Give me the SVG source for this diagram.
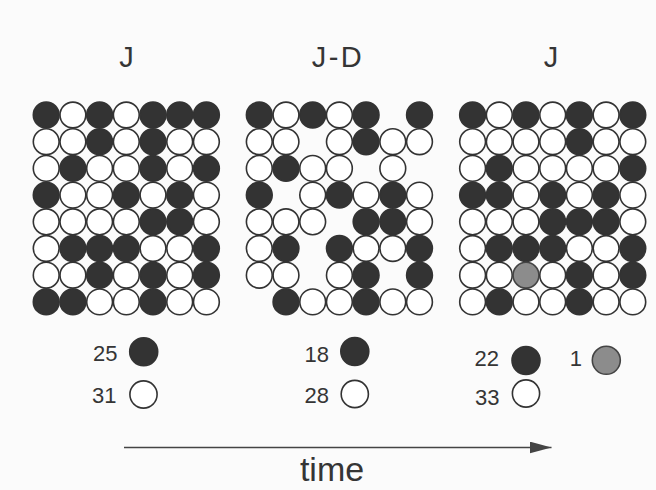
<svg xmlns="http://www.w3.org/2000/svg" width="656" height="490" viewBox="0 0 656 490">
<style>
.b{fill:#333333;stroke:#333333;stroke-width:1.6}
.w{fill:#ffffff;stroke:#333333;stroke-width:1.6}
.g{fill:#8c8c8c;stroke:#444444;stroke-width:1.6}
.t{font-family:"Liberation Sans",Arial,Helvetica,sans-serif;fill:#353535}
.title{font-size:29px;text-anchor:middle}
.num{font-size:22px;text-anchor:end}
.lab{font-size:34px;text-anchor:middle}
.arr{stroke:#444;stroke-width:1.6;fill:none}
</style>
<defs>
<marker id="ah" markerUnits="userSpaceOnUse" markerWidth="24" markerHeight="14" refX="22" refY="6" orient="auto">
<path d="M0,0 L22,6 L0,12 Z" fill="#444"/>
</marker>
</defs>
<rect width="656" height="490" fill="#fbfbfb"/>

<g id="title-1"><text class="t title" x="126.5" y="67">J</text></g>
<g id="title-2"><text class="t title" x="338" y="67" letter-spacing="2.5">J-D</text></g>
<g id="title-3"><text class="t title" x="551" y="67">J</text></g>

<g id="grid-1">
<g transform="translate(46.2,115)"><circle class="b" cx="0" cy="0" r="12.9"/><circle class="w" cx="26.7" cy="0" r="12.9"/><circle class="b" cx="53.4" cy="0" r="12.9"/><circle class="w" cx="80.1" cy="0" r="12.9"/><circle class="b" cx="106.8" cy="0" r="12.9"/><circle class="b" cx="133.5" cy="0" r="12.9"/><circle class="b" cx="160.2" cy="0" r="12.9"/></g>
<g transform="translate(46.2,141.7)"><circle class="w" cx="0" cy="0" r="12.9"/><circle class="w" cx="26.7" cy="0" r="12.9"/><circle class="b" cx="53.4" cy="0" r="12.9"/><circle class="w" cx="80.1" cy="0" r="12.9"/><circle class="b" cx="106.8" cy="0" r="12.9"/><circle class="w" cx="133.5" cy="0" r="12.9"/><circle class="w" cx="160.2" cy="0" r="12.9"/></g>
<g transform="translate(46.2,168.4)"><circle class="w" cx="0" cy="0" r="12.9"/><circle class="b" cx="26.7" cy="0" r="12.9"/><circle class="w" cx="53.4" cy="0" r="12.9"/><circle class="w" cx="80.1" cy="0" r="12.9"/><circle class="b" cx="106.8" cy="0" r="12.9"/><circle class="w" cx="133.5" cy="0" r="12.9"/><circle class="b" cx="160.2" cy="0" r="12.9"/></g>
<g transform="translate(46.2,195.1)"><circle class="b" cx="0" cy="0" r="12.9"/><circle class="w" cx="26.7" cy="0" r="12.9"/><circle class="w" cx="53.4" cy="0" r="12.9"/><circle class="b" cx="80.1" cy="0" r="12.9"/><circle class="w" cx="106.8" cy="0" r="12.9"/><circle class="b" cx="133.5" cy="0" r="12.9"/><circle class="w" cx="160.2" cy="0" r="12.9"/></g>
<g transform="translate(46.2,221.8)"><circle class="w" cx="0" cy="0" r="12.9"/><circle class="w" cx="26.7" cy="0" r="12.9"/><circle class="w" cx="53.4" cy="0" r="12.9"/><circle class="w" cx="80.1" cy="0" r="12.9"/><circle class="b" cx="106.8" cy="0" r="12.9"/><circle class="b" cx="133.5" cy="0" r="12.9"/><circle class="w" cx="160.2" cy="0" r="12.9"/></g>
<g transform="translate(46.2,248.5)"><circle class="w" cx="0" cy="0" r="12.9"/><circle class="b" cx="26.7" cy="0" r="12.9"/><circle class="b" cx="53.4" cy="0" r="12.9"/><circle class="b" cx="80.1" cy="0" r="12.9"/><circle class="w" cx="106.8" cy="0" r="12.9"/><circle class="w" cx="133.5" cy="0" r="12.9"/><circle class="b" cx="160.2" cy="0" r="12.9"/></g>
<g transform="translate(46.2,275.2)"><circle class="w" cx="0" cy="0" r="12.9"/><circle class="w" cx="26.7" cy="0" r="12.9"/><circle class="b" cx="53.4" cy="0" r="12.9"/><circle class="w" cx="80.1" cy="0" r="12.9"/><circle class="b" cx="106.8" cy="0" r="12.9"/><circle class="w" cx="133.5" cy="0" r="12.9"/><circle class="b" cx="160.2" cy="0" r="12.9"/></g>
<g transform="translate(46.2,301.9)"><circle class="b" cx="0" cy="0" r="12.9"/><circle class="b" cx="26.7" cy="0" r="12.9"/><circle class="w" cx="53.4" cy="0" r="12.9"/><circle class="w" cx="80.1" cy="0" r="12.9"/><circle class="b" cx="106.8" cy="0" r="12.9"/><circle class="w" cx="133.5" cy="0" r="12.9"/><circle class="w" cx="160.2" cy="0" r="12.9"/></g>
</g>

<g id="grid-2">
<g transform="translate(259.3,115)"><circle class="b" cx="0" cy="0" r="12.9"/><circle class="w" cx="26.7" cy="0" r="12.9"/><circle class="b" cx="53.4" cy="0" r="12.9"/><circle class="w" cx="80.1" cy="0" r="12.9"/><circle class="b" cx="106.8" cy="0" r="12.9"/><circle class="b" cx="160.2" cy="0" r="12.9"/></g>
<g transform="translate(259.3,141.7)"><circle class="w" cx="0" cy="0" r="12.9"/><circle class="w" cx="26.7" cy="0" r="12.9"/><circle class="w" cx="80.1" cy="0" r="12.9"/><circle class="b" cx="106.8" cy="0" r="12.9"/><circle class="w" cx="133.5" cy="0" r="12.9"/><circle class="w" cx="160.2" cy="0" r="12.9"/></g>
<g transform="translate(259.3,168.4)"><circle class="w" cx="0" cy="0" r="12.9"/><circle class="b" cx="26.7" cy="0" r="12.9"/><circle class="w" cx="53.4" cy="0" r="12.9"/><circle class="w" cx="80.1" cy="0" r="12.9"/><circle class="w" cx="133.5" cy="0" r="12.9"/></g>
<g transform="translate(259.3,195.1)"><circle class="b" cx="0" cy="0" r="12.9"/><circle class="w" cx="53.4" cy="0" r="12.9"/><circle class="b" cx="80.1" cy="0" r="12.9"/><circle class="w" cx="106.8" cy="0" r="12.9"/><circle class="b" cx="133.5" cy="0" r="12.9"/><circle class="w" cx="160.2" cy="0" r="12.9"/></g>
<g transform="translate(259.3,221.8)"><circle class="w" cx="0" cy="0" r="12.9"/><circle class="w" cx="26.7" cy="0" r="12.9"/><circle class="w" cx="53.4" cy="0" r="12.9"/><circle class="b" cx="106.8" cy="0" r="12.9"/><circle class="b" cx="133.5" cy="0" r="12.9"/><circle class="w" cx="160.2" cy="0" r="12.9"/></g>
<g transform="translate(259.3,248.5)"><circle class="w" cx="0" cy="0" r="12.9"/><circle class="b" cx="26.7" cy="0" r="12.9"/><circle class="b" cx="80.1" cy="0" r="12.9"/><circle class="w" cx="106.8" cy="0" r="12.9"/><circle class="w" cx="133.5" cy="0" r="12.9"/><circle class="b" cx="160.2" cy="0" r="12.9"/></g>
<g transform="translate(259.3,275.2)"><circle class="w" cx="0" cy="0" r="12.9"/><circle class="w" cx="26.7" cy="0" r="12.9"/><circle class="w" cx="80.1" cy="0" r="12.9"/><circle class="b" cx="106.8" cy="0" r="12.9"/><circle class="b" cx="160.2" cy="0" r="12.9"/></g>
<g transform="translate(259.3,301.9)"><circle class="b" cx="26.7" cy="0" r="12.9"/><circle class="w" cx="53.4" cy="0" r="12.9"/><circle class="w" cx="80.1" cy="0" r="12.9"/><circle class="b" cx="106.8" cy="0" r="12.9"/><circle class="w" cx="133.5" cy="0" r="12.9"/><circle class="w" cx="160.2" cy="0" r="12.9"/></g>
</g>

<g id="grid-3">
<g transform="translate(472.6,115)"><circle class="b" cx="0" cy="0" r="12.9"/><circle class="w" cx="26.7" cy="0" r="12.9"/><circle class="b" cx="53.4" cy="0" r="12.9"/><circle class="w" cx="80.1" cy="0" r="12.9"/><circle class="b" cx="106.8" cy="0" r="12.9"/><circle class="w" cx="133.5" cy="0" r="12.9"/><circle class="b" cx="160.2" cy="0" r="12.9"/></g>
<g transform="translate(472.6,141.7)"><circle class="w" cx="0" cy="0" r="12.9"/><circle class="w" cx="26.7" cy="0" r="12.9"/><circle class="w" cx="53.4" cy="0" r="12.9"/><circle class="w" cx="80.1" cy="0" r="12.9"/><circle class="b" cx="106.8" cy="0" r="12.9"/><circle class="w" cx="133.5" cy="0" r="12.9"/><circle class="w" cx="160.2" cy="0" r="12.9"/></g>
<g transform="translate(472.6,168.4)"><circle class="w" cx="0" cy="0" r="12.9"/><circle class="b" cx="26.7" cy="0" r="12.9"/><circle class="w" cx="53.4" cy="0" r="12.9"/><circle class="w" cx="80.1" cy="0" r="12.9"/><circle class="w" cx="106.8" cy="0" r="12.9"/><circle class="w" cx="133.5" cy="0" r="12.9"/><circle class="b" cx="160.2" cy="0" r="12.9"/></g>
<g transform="translate(472.6,195.1)"><circle class="b" cx="0" cy="0" r="12.9"/><circle class="b" cx="26.7" cy="0" r="12.9"/><circle class="w" cx="53.4" cy="0" r="12.9"/><circle class="b" cx="80.1" cy="0" r="12.9"/><circle class="w" cx="106.8" cy="0" r="12.9"/><circle class="b" cx="133.5" cy="0" r="12.9"/><circle class="w" cx="160.2" cy="0" r="12.9"/></g>
<g transform="translate(472.6,221.8)"><circle class="w" cx="0" cy="0" r="12.9"/><circle class="w" cx="26.7" cy="0" r="12.9"/><circle class="w" cx="53.4" cy="0" r="12.9"/><circle class="b" cx="80.1" cy="0" r="12.9"/><circle class="b" cx="106.8" cy="0" r="12.9"/><circle class="b" cx="133.5" cy="0" r="12.9"/><circle class="w" cx="160.2" cy="0" r="12.9"/></g>
<g transform="translate(472.6,248.5)"><circle class="w" cx="0" cy="0" r="12.9"/><circle class="b" cx="26.7" cy="0" r="12.9"/><circle class="b" cx="53.4" cy="0" r="12.9"/><circle class="b" cx="80.1" cy="0" r="12.9"/><circle class="w" cx="106.8" cy="0" r="12.9"/><circle class="w" cx="133.5" cy="0" r="12.9"/><circle class="b" cx="160.2" cy="0" r="12.9"/></g>
<g transform="translate(472.6,275.2)"><circle class="w" cx="0" cy="0" r="12.9"/><circle class="w" cx="26.7" cy="0" r="12.9"/><circle class="g" cx="53.4" cy="0" r="12.9"/><circle class="w" cx="80.1" cy="0" r="12.9"/><circle class="b" cx="106.8" cy="0" r="12.9"/><circle class="w" cx="133.5" cy="0" r="12.9"/><circle class="b" cx="160.2" cy="0" r="12.9"/></g>
<g transform="translate(472.6,301.9)"><circle class="w" cx="0" cy="0" r="12.9"/><circle class="b" cx="26.7" cy="0" r="12.9"/><circle class="w" cx="53.4" cy="0" r="12.9"/><circle class="w" cx="80.1" cy="0" r="12.9"/><circle class="b" cx="106.8" cy="0" r="12.9"/><circle class="w" cx="133.5" cy="0" r="12.9"/><circle class="w" cx="160.2" cy="0" r="12.9"/></g>
</g>

<g id="legend-1">
<text class="t num" x="117.5" y="361">25</text><circle class="b" cx="143.7" cy="351.7" r="14"/>
<text class="t num" x="116.5" y="403">31</text><circle class="w" cx="143.5" cy="394.5" r="13.6"/>
</g>
<g id="legend-2">
<text class="t num" x="329" y="362">18</text><circle class="b" cx="354.8" cy="351.5" r="14"/>
<text class="t num" x="329" y="403">28</text><circle class="w" cx="354.8" cy="394" r="13.6"/>
</g>
<g id="legend-3">
<text class="t num" x="499" y="366">22</text><circle class="b" cx="526" cy="360.5" r="14"/>
<text class="t num" x="582" y="366">1</text><circle class="g" cx="606.3" cy="360.3" r="14"/>
<text class="t num" x="499.5" y="404.5">33</text><circle class="w" cx="526" cy="393.5" r="13.6"/>
</g>

<g id="connectors">
<line class="arr" x1="124" y1="447.5" x2="551.5" y2="447.5" marker-end="url(#ah)"/>
</g>
<g id="label-time"><text class="t lab" x="332" y="481">time</text></g>
</svg>
